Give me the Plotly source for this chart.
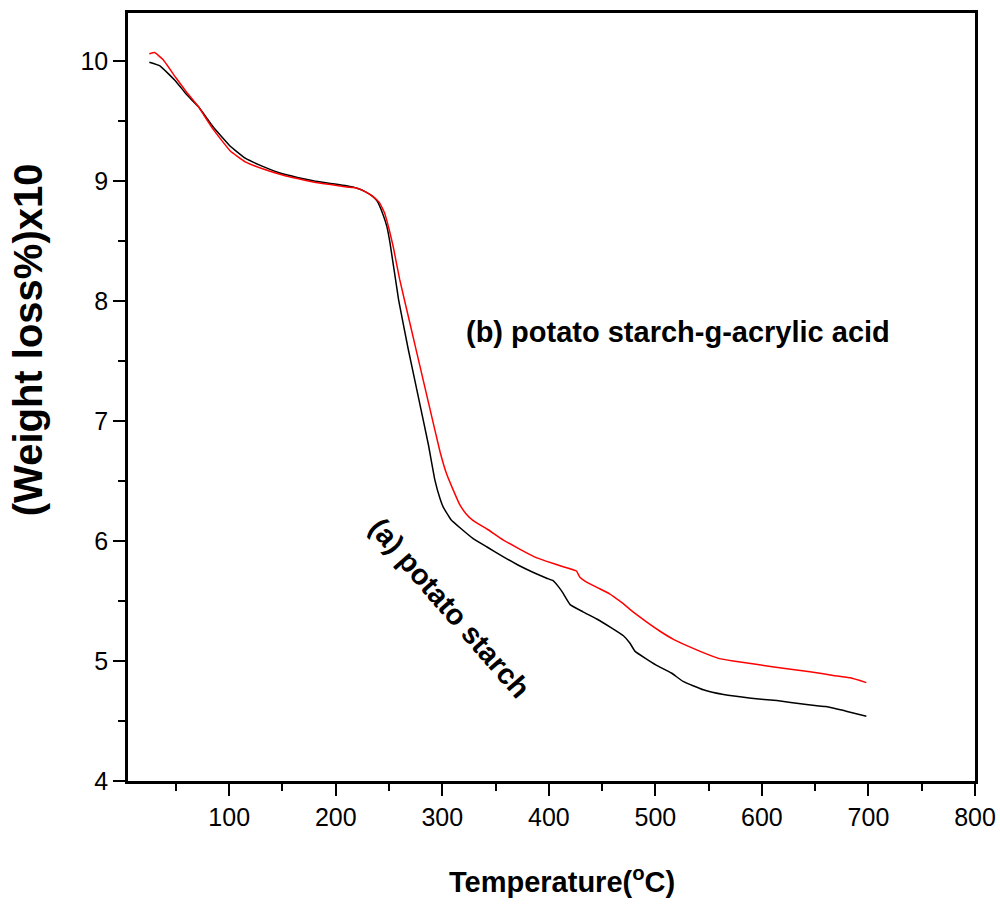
import plotly.graph_objects as go

# (a) potato starch
temp_a = [25, 35, 50, 60, 71, 85, 101, 115, 132, 150, 164, 180, 195, 210, 220, 228, 235, 239,
          244, 248, 251, 259, 268, 278, 287, 293, 298, 301, 308, 318, 329, 342, 357, 371, 385,
          398, 404, 409, 413, 420, 432, 445, 458, 470, 476, 481, 500, 515, 526, 545, 564, 590,
          614, 640, 660, 680, 698]
wt_a = [9.99, 9.96, 9.83, 9.72, 9.62, 9.45, 9.29, 9.19, 9.12, 9.06, 9.03, 9.00, 8.98, 8.96, 8.94,
        8.91, 8.87, 8.83, 8.73, 8.62, 8.48, 8.01, 7.60, 7.18, 6.80, 6.51, 6.35, 6.28, 6.18, 6.10,
        6.02, 5.95, 5.87, 5.80, 5.74, 5.69, 5.67, 5.62, 5.57, 5.47, 5.41, 5.35, 5.28, 5.21, 5.15,
        5.08, 4.97, 4.90, 4.83, 4.76, 4.72, 4.69, 4.67, 4.64, 4.62, 4.58, 4.54]

# (b) potato starch-g-acrylic acid
temp_b = [25, 30, 38, 50, 60, 71, 85, 101, 115, 132, 150, 164, 180, 195, 210, 220, 228, 235,
          241, 246, 250, 254, 260, 270, 280, 290, 298, 304, 310, 316, 322, 329, 342, 357, 373,
          386, 398, 412, 426, 429, 435, 446, 457, 468, 479, 491, 504, 517, 529, 542, 560, 573,
          596, 620, 645, 667, 683, 698]
wt_b = [10.06, 10.07, 10.01, 9.86, 9.74, 9.62, 9.43, 9.25, 9.16, 9.10, 9.05, 9.02, 8.99, 8.97,
        8.95, 8.94, 8.91, 8.87, 8.82, 8.73, 8.60, 8.45, 8.18, 7.80, 7.42, 7.04, 6.74, 6.56,
        6.43, 6.31, 6.23, 6.17, 6.10, 6.01, 5.93, 5.87, 5.83, 5.79, 5.75, 5.70, 5.66, 5.61, 5.56,
        5.49, 5.41, 5.33, 5.25, 5.18, 5.13, 5.08, 5.02, 5.00, 4.97, 4.94, 4.91, 4.88, 4.86, 4.82]

x_title = "Temperature(<sup>o</sup>C)"
y_title = "(Weight loss%)x10"
label_a = "(a) potato starch"
label_b = "(b) potato starch-g-acrylic acid"

fig = go.Figure()
fig.add_trace(go.Scatter(x=temp_a, y=wt_a, mode="lines", name=label_a,
                         line=dict(color="black", width=1.5, shape="spline", smoothing=0.3)))
fig.add_trace(go.Scatter(x=temp_b, y=wt_b, mode="lines", name=label_b,
                         line=dict(color="#ff0000", width=1.5, shape="spline", smoothing=0.3)))

axis_common = dict(showline=True, linecolor="black", linewidth=2.5, mirror=True,
                   ticks="outside", ticklen=12, tickwidth=2, tickcolor="black",
                   showgrid=False, zeroline=False, automargin=False,
                   tickfont=dict(family="Liberation Sans, Arial", size=25, color="black"))

fig.update_xaxes(range=[5, 800], tick0=0, dtick=100,
                 minor=dict(ticks="outside", ticklen=7, tickwidth=2, tickcolor="black",
                            dtick=50, tick0=0, showgrid=False),
                 **axis_common)
fig.update_yaxes(range=[4, 10.4], tick0=0, dtick=1,
                 minor=dict(ticks="outside", ticklen=7, tickwidth=2, tickcolor="black",
                            dtick=0.5, tick0=0, showgrid=False),
                 **axis_common)

fig.add_annotation(text="<b>" + x_title + "</b>", xref="paper", yref="paper",
                   x=0.512, y=-0.129, showarrow=False,
                   font=dict(family="Liberation Sans, Arial", size=29, color="black"),
                   xanchor="center", yanchor="middle")
fig.add_annotation(text="<b>" + y_title + "</b>", xref="paper", yref="paper",
                   x=-0.118, y=0.574, showarrow=False,
                   font=dict(family="Liberation Sans, Arial", size=40, color="black"),
                   textangle=-90, xanchor="center", yanchor="middle")

label_font = dict(family="Liberation Sans, Arial", size=29, color="black")
fig.add_annotation(text="<b>" + label_b + "</b>", x=521, y=7.74, showarrow=False,
                   font=label_font, xanchor="center", yanchor="middle")
fig.add_annotation(text="<b>" + label_a + "</b>", x=307, y=5.44, showarrow=False,
                   font=label_font, textangle=49, xanchor="center", yanchor="middle")

fig.update_layout(width=1000, height=907, showlegend=False,
                  paper_bgcolor="white", plot_bgcolor="white",
                  margin=dict(l=128, r=25, t=13, b=126))

fig.write_html("out.html")
